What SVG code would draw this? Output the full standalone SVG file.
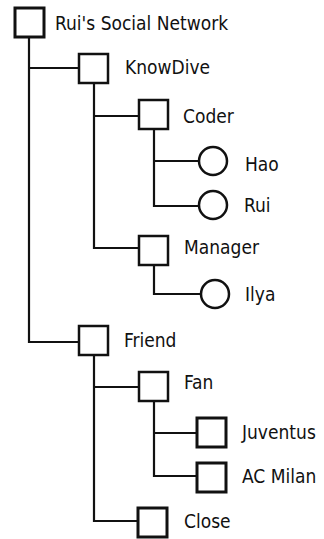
<svg xmlns="http://www.w3.org/2000/svg" width="324" height="539" viewBox="0 0 324 539">
<style>
.n{fill:#fff;stroke:#111;stroke-width:2.5}
.c{fill:none;stroke:#111;stroke-width:2.2}
text{font-family:"DejaVu Sans Condensed","DejaVu Sans",sans-serif;font-size:19px;fill:#111;dominant-baseline:central}
</style>
<g id="connectors">
<path class="c" d="M29 37V342H79"/>
<path class="c" d="M29 68H79"/>
<path class="c" d="M94 83V248H139"/>
<path class="c" d="M94 116H139"/>
<path class="c" d="M154 129V206H199"/>
<path class="c" d="M154 161H199"/>
<path class="c" d="M154 265V294H201"/>
<path class="c" d="M94 355V521H138"/>
<path class="c" d="M94 387H139"/>
<path class="c" d="M154 400V476H197"/>
<path class="c" d="M154 433H197"/>
</g>
<g id="root"><rect class="n" x="15" y="8" width="29" height="29" style="stroke-width:3"/><text x="55" y="23">Rui's Social Network</text></g>
<g id="knowdive"><rect class="n" x="79" y="54" width="29" height="29"/><text x="125" y="67">KnowDive</text></g>
<g id="coder"><rect class="n" x="139" y="100" width="29" height="29"/><text x="183" y="116">Coder</text></g>
<g id="hao"><circle class="n" cx="213" cy="161" r="14"/><text x="245" y="164">Hao</text></g>
<g id="rui"><circle class="n" cx="213" cy="205" r="14"/><text x="244" y="205">Rui</text></g>
<g id="manager"><rect class="n" x="139" y="236" width="29" height="29"/><text x="184" y="247">Manager</text></g>
<g id="ilya"><circle class="n" cx="215" cy="294" r="14"/><text x="245" y="294">Ilya</text></g>
<g id="friend"><rect class="n" x="79" y="326" width="29" height="29"/><text x="124" y="340">Friend</text></g>
<g id="fan"><rect class="n" x="139" y="372" width="29" height="29"/><text x="184" y="382">Fan</text></g>
<g id="juventus"><rect class="n" x="197" y="418" width="29" height="29" style="stroke-width:3"/><text x="242" y="432">Juventus</text></g>
<g id="acmilan"><rect class="n" x="197" y="463" width="29" height="29" style="stroke-width:3"/><text x="242" y="476">AC Milan</text></g>
<g id="close"><rect class="n" x="138" y="508" width="29" height="29" style="stroke-width:3"/><text x="184" y="521">Close</text></g>
</svg>
